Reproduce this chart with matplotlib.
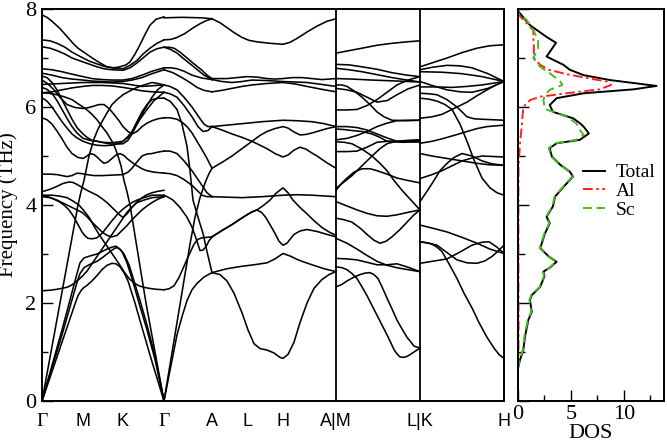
import matplotlib
matplotlib.use("Agg")
import matplotlib.pyplot as plt

# ---------------- data ----------------
kpath_pos = [0, 41, 81, 122, 170, 205, 241, 294, 378, 462]
kpath_labels = ['Γ', 'M', 'K', 'Γ', 'A', 'L', 'H', 'A|M', 'L|K', 'H']
panel_breaks = [294, 378]

# Γ-M-K-Γ branches (path coordinate, THz)
bands_gmkg = [
    [[0,7.88],[5,7.83],[10,7.75],[18,7.6],[25,7.44],[31,7.3],[36,7.2],[41,7.13],[46,7.06],[51,6.99],[58,6.9],[65,6.82],[72,6.8],[78,6.82],[84,6.86],[88,6.92],[93,7.08],[98,7.27],[103,7.48],[108,7.67],[114,7.79],[122,7.84]],
    [[0,7.37],[8,7.35],[15,7.3],[23,7.22],[30,7.12],[41,7.0],[48,6.93],[55,6.88],[62,6.83],[70,6.8],[81,6.78],[88,6.85],[95,6.95],[101,7.08],[108,7.2],[115,7.3],[122,7.37]],
    [[0,7.23],[8,7.2],[15,7.15],[23,7.08],[30,7.0],[41,6.92],[55,6.82],[62,6.78],[70,6.76],[81,6.75],[88,6.8],[95,6.9],[101,7.0],[108,7.12],[115,7.19],[122,7.22]],
    [[0,6.78],[10,6.76],[20,6.72],[30,6.67],[41,6.62],[50,6.58],[60,6.56],[70,6.55],[81,6.55],[90,6.58],[100,6.65],[110,6.73],[122,6.8]],
    [[0,6.69],[10,6.65],[20,6.6],[30,6.57],[41,6.55],[50,6.53],[60,6.52],[70,6.51],[81,6.52],[90,6.55],[100,6.6],[110,6.68],[122,6.76]],
    [[0,6.46],[20,6.48],[41,6.5],[60,6.5],[81,6.48],[100,6.42],[122,6.45]],
    [[0,6.29],[10,6.31],[20,6.35],[30,6.39],[41,6.42],[50,6.44],[60,6.44],[70,6.43],[81,6.4],[90,6.37],[100,6.33],[110,6.31],[122,6.3]],
    [[0,6.63],[5,6.6],[10,6.5],[15,6.35],[20,6.15],[25,5.95],[30,5.75],[35,5.58],[41,5.45],[45,5.38],[50,5.32],[60,5.28],[70,5.27],[81,5.3],[86,5.38],[90,5.5],[95,5.7],[100,5.9],[105,6.05],[110,6.15],[116,6.18],[122,6.18]],
    [[0,6.40],[5,6.36],[10,6.28],[15,6.13],[20,5.95],[25,5.77],[30,5.6],[35,5.47],[41,5.36],[48,5.32],[55,5.3],[62,5.27],[70,5.24],[81,5.25],[86,5.32],[90,5.45],[95,5.65],[100,5.85],[105,6.03],[110,6.2],[116,6.36],[122,6.45]],
    [[0,6.19],[5,6.12],[10,6.0],[15,5.85],[20,5.7],[25,5.57],[30,5.45],[35,5.37],[41,5.3],[48,5.25],[55,5.22],[62,5.21],[70,5.22],[76,5.25],[81,5.3],[86,5.4],[92,5.55],[98,5.75],[105,5.95],[112,6.13],[122,6.3]],
    [[0,6.55],[6,6.47],[12,6.35],[18,6.2],[25,6.05],[33,5.99],[41,5.97],[47,5.99],[52,6.02],[57,6.05],[62,6.05],[67,5.97],[72,5.85],[77,5.72],[81,5.6],[86,5.5],[90,5.45],[95,5.5],[100,5.6],[105,5.67],[110,5.72],[116,5.76],[122,5.78]],
    [[0,5.78],[5,5.74],[10,5.65],[15,5.51],[20,5.35],[25,5.18],[30,5.05],[36,4.97],[41,4.95],[45,5.0],[48,5.05],[52,5.03],[55,4.98],[59,4.9],[62,4.85],[66,4.88],[70,4.95],[74,5.02],[78,5.05],[82,5.01],[85,4.95],[90,4.87],[95,4.8],[100,4.74],[105,4.7],[112,4.67],[122,4.65]],
    [[0,4.63],[8,4.63],[15,4.62],[20,4.6],[25,4.58],[30,4.6],[35,4.65],[40,4.64],[45,4.62],[52,4.6],[60,4.6],[70,4.61],[81,4.62],[86,4.67],[90,4.75],[95,4.88],[100,5.0],[105,5.04],[110,5.05],[116,5.08],[122,5.1]],
    [[0,4.27],[8,4.32],[15,4.38],[21,4.44],[27,4.47],[31,4.46],[35,4.42],[40,4.36],[45,4.3],[50,4.25],[55,4.2],[60,4.13],[65,4.05],[70,3.95],[75,3.85],[78,3.79],[81,3.75],[85,3.82],[90,3.95],[95,4.06],[100,4.15],[105,4.21],[110,4.25],[116,4.28],[122,4.3]],
    [[0,4.2],[6,4.17],[12,4.12],[17,4.07],[22,4.0],[27,3.9],[32,3.75],[36,3.6],[40,3.45],[43,3.37],[46,3.32],[50,3.31],[55,3.33],[60,3.42],[65,3.55],[70,3.68],[75,3.8],[80,3.9],[85,3.98],[90,4.05],[95,4.1],[102,4.15],[110,4.2],[122,4.2]],
    [[0,4.17],[8,4.15],[15,4.1],[22,4.03],[30,3.95],[35,3.9],[40,3.85],[45,3.76],[50,3.65],[55,3.55],[60,3.45],[65,3.38],[70,3.35],[75,3.38],[81,3.5],[85,3.58],[90,3.7],[95,3.8],[100,3.9],[105,3.98],[110,4.05],[116,4.12],[122,4.17]],
    [[0,0],[20,1.2],[33,1.98],[36,2.15],[39,2.25],[41,2.3],[45,2.36],[50,2.45],[55,2.56],[60,2.68],[65,2.77],[70,2.81],[74,2.8],[78,2.74],[82,2.62],[86,2.45],[93,2.0],[100,1.5],[110,0.8],[122,0]],
    [[0,0],[20,1.35],[35,2.42],[38,2.6],[42,2.72],[48,2.79],[55,2.85],[60,2.92],[65,3.0],[70,3.08],[74,3.13],[77,3.11],[80,3.05],[85,2.82],[90,2.5],[97,2.0],[105,1.45],[113,0.85],[122,0]],
    [[0,0],[20,1.45],[35,2.6],[38,2.82],[42,2.92],[48,2.96],[55,3.0],[60,3.05],[65,3.1],[70,3.14],[74,3.16],[78,3.1],[82,3.0],[87,2.78],[92,2.45],[98,2.05],[105,1.55],[113,0.92],[122,0]],
    [[0,0],[18,2.0],[36,4.0],[39,4.27],[42,4.5],[45,4.8],[47,5.0],[52,5.35],[56,5.55],[60,5.7],[65,5.88],[70,6.05],[75,6.15],[81,6.25],[88,6.33],[95,6.4],[102,6.45],[110,6.5],[116,6.48],[122,6.45]],
    [[122,0],[104,2.0],[88,4.0],[85,4.27],[82,4.5],[79,4.8],[76,5.0],[73,5.17],[70,5.3],[65,5.47],[60,5.6],[55,5.74],[50,5.85],[45,5.94],[41,6.0],[35,6.08],[30,6.15],[22,6.21],[15,6.25],[7,6.28],[0,6.29]],
    [[0,2.25],[8,2.26],[15,2.28],[20,2.3],[25,2.32],[30,2.37],[35,2.45],[40,2.54],[45,2.65],[50,2.8],[55,2.95],[60,3.1],[65,3.25],[70,3.4],[75,3.55],[80,3.7],[85,3.85],[90,3.96],[95,4.05],[102,4.1],[110,4.15],[122,4.17]],
    [[122,2.27],[114,2.28],[107,2.3],[102,2.32],[97,2.35],[92,2.41],[87,2.5],[82,2.64],[77,2.8],[72,2.95],[67,3.1],[62,3.25],[57,3.4],[52,3.57],[47,3.75],[42,3.88],[37,4.0],[31,4.08],[25,4.15],[18,4.18],[10,4.2],[0,4.2]],
]

# Γ-A branches
bands_ga = [
    [[122,7.82],[140,7.83],[160,7.82],[170,7.8]],
    [[122,7.37],[129,7.38],[135,7.42],[143,7.5],[150,7.6],[158,7.7],[164,7.76],[170,7.8]],
    [[122,7.22],[127,7.22],[132,7.2],[138,7.12],[145,7.0],[152,6.88],[160,6.75],[165,6.65],[170,6.58]],
    [[122,7.22],[128,7.18],[135,7.1],[142,6.98],[150,6.85],[156,6.75],[162,6.65],[170,6.56]],
    [[122,6.8],[129,6.8],[135,6.78],[142,6.73],[150,6.65],[160,6.59],[170,6.56]],
    [[122,6.76],[131,6.7],[140,6.6],[148,6.5],[155,6.4],[162,6.34],[170,6.31]],
    [[122,6.45],[128,6.42],[135,6.35],[142,6.2],[150,6.0],[156,5.82],[162,5.65],[166,5.6],[170,5.6]],
    [[122,6.3],[128,6.27],[135,6.2],[142,6.03],[150,5.8],[156,5.6],[161,5.5],[166,5.52],[170,5.6]],
    [[122,5.78],[128,5.78],[135,5.75],[140,5.69],[145,5.6],[150,5.47],[155,5.3],[160,5.13],[165,4.95],[170,4.75]],
    [[122,0],[135,1.6],[148,3.2],[153,3.75],[158,4.15],[161,4.33],[164,4.5],[167,4.64],[170,4.75]],
    [[122,0],[135,1.35],[140,1.72],[145,2.05],[150,2.27],[155,2.4],[162,2.53],[170,2.62]],
    [[122,2.27],[127,2.29],[132,2.35],[137,2.52],[142,2.75],[147,2.98],[152,3.2],[156,3.3],[160,3.33],[170,3.35]],
    [[122,4.65],[128,4.64],[135,4.6],[142,4.52],[150,4.4],[155,4.3],[160,4.2],[165,4.17],[170,4.17]],
    [[122,4.2],[126,4.16],[131,4.1],[138,3.95],[145,3.75],[150,3.55],[154,3.32],[158,3.07],[161,3.08],[164,3.15],[167,3.27],[170,3.35]],
    [[122,6.18],[128,6.12],[135,5.95],[140,5.65],[145,5.2],[148,4.7],[151,4.1],[156,3.75],[161,3.42],[165,3.05],[170,2.62]],
    [[122,5.1],[128,5.1],[135,5.05],[142,4.9],[150,4.7],[155,4.55],[160,4.4],[165,4.25],[170,4.17]],
]

# A-L-H-A branches
bands_alha = [
    [[170,7.8],[178,7.72],[185,7.62],[192,7.52],[200,7.42],[207,7.36],[215,7.33],[228,7.3],[241,7.28],[248,7.32],[255,7.4],[265,7.53],[275,7.65],[285,7.75],[294,7.8]],
    [[170,6.58],[185,6.58],[195,6.6],[205,6.62],[215,6.61],[225,6.58],[233,6.57],[241,6.58],[250,6.6],[260,6.6],[270,6.58],[280,6.56],[294,6.58]],
    [[170,6.56],[180,6.52],[190,6.5],[200,6.52],[210,6.55],[225,6.54],[241,6.52],[253,6.51],[265,6.5],[280,6.46],[294,6.42]],
    [[170,6.31],[180,6.34],[190,6.38],[200,6.42],[210,6.45],[225,6.48],[241,6.5],[253,6.47],[265,6.42],[280,6.36],[294,6.31]],
    [[170,5.6],[185,5.63],[200,5.66],[220,5.7],[241,5.73],[255,5.72],[270,5.7],[282,5.66],[294,5.6]],
    [[170,5.6],[180,5.53],[190,5.45],[200,5.38],[210,5.3],[218,5.22],[225,5.15],[233,5.05],[241,4.98],[246,5.02],[252,5.12],[258,5.18],[264,5.14],[270,5.06],[275,5.0],[285,4.86],[294,4.75]],
    [[170,4.75],[180,4.87],[190,5.0],[200,5.15],[210,5.3],[218,5.42],[225,5.5],[233,5.56],[241,5.6],[246,5.57],[252,5.49],[258,5.43],[264,5.44],[270,5.47],[275,5.5],[285,5.56],[294,5.6]],
    [[170,4.17],[185,4.16],[200,4.15],[220,4.17],[241,4.2],[255,4.21],[270,4.2],[294,4.17]],
    [[170,3.35],[180,3.48],[190,3.6],[198,3.71],[205,3.8],[210,3.86],[215,3.9],[220,3.84],[224,3.74],[228,3.6],[233,3.42],[237,3.26],[241,3.18],[245,3.22],[252,3.4],[258,3.47],[265,3.5],[275,3.46],[285,3.4],[294,3.35]],
    [[170,3.35],[180,3.48],[190,3.6],[198,3.71],[205,3.8],[210,3.86],[215,3.9],[222,4.0],[228,4.1],[234,4.24],[241,4.35],[246,4.25],[251,4.1],[258,3.95],[265,3.82],[272,3.68],[280,3.54],[287,3.45],[294,3.38]],
    [[170,2.62],[185,2.7],[200,2.75],[212,2.78],[225,2.82],[233,2.9],[241,3.01],[248,2.96],[254,2.9],[260,2.85],[270,2.78],[282,2.7],[294,2.64]],
    [[170,2.62],[178,2.58],[185,2.45],[192,2.2],[200,1.8],[206,1.45],[212,1.17],[218,1.07],[225,1.04],[232,0.98],[238,0.89],[241,0.87],[246,0.95],[252,1.2],[258,1.6],[265,2.0],[272,2.3],[280,2.48],[287,2.58],[294,2.64]],
]

# M-L branches
bands_ml = [
    [[294,7.10],[307,7.15],[320,7.2],[335,7.26],[350,7.3],[365,7.33],[378,7.35]],
    [[294,6.87],[307,6.86],[320,6.82],[335,6.77],[350,6.7],[365,6.65],[378,6.62]],
    [[294,6.79],[307,6.76],[320,6.72],[335,6.66],[350,6.6],[365,6.55],[378,6.51]],
    [[294,6.58],[310,6.57],[330,6.55],[355,6.53],[378,6.51]],
    [[294,6.45],[300,6.45],[305,6.42],[312,6.33],[320,6.2],[328,6.05],[335,5.9],[342,5.8],[350,5.73],[365,5.72],[378,5.73]],
    [[294,6.38],[305,6.35],[315,6.3],[325,6.2],[335,6.1],[345,6.13],[355,6.25],[366,6.37],[378,6.45]],
    [[294,5.94],[305,5.94],[315,5.95],[325,6.03],[335,6.15],[345,6.3],[355,6.45],[366,6.55],[378,6.62]],
    [[294,5.6],[305,5.6],[315,5.58],[325,5.53],[335,5.45],[345,5.37],[355,5.3],[366,5.3],[378,5.33]],
    [[294,5.55],[302,5.54],[310,5.52],[320,5.5],[330,5.45],[338,5.38],[345,5.3],[360,5.28],[378,5.29]],
    [[294,5.33],[305,5.36],[315,5.42],[325,5.5],[335,5.6],[345,5.67],[355,5.72],[366,5.73],[378,5.73]],
    [[294,5.29],[302,5.28],[310,5.25],[320,5.14],[330,5.0],[338,4.85],[345,4.7],[352,4.5],[360,4.3],[369,4.1],[378,3.9]],
    [[294,5.09],[305,5.09],[315,5.1],[325,5.18],[335,5.28],[345,5.3],[355,5.3],[366,5.32],[378,5.33]],
    [[294,4.34],[302,4.47],[310,4.6],[320,4.8],[330,5.0],[338,5.15],[345,5.25],[352,5.29],[360,5.3],[378,5.29]],
    [[294,4.30],[300,4.45],[305,4.55],[312,4.67],[320,4.74],[328,4.74],[335,4.7],[345,4.63],[355,4.55],[366,4.5],[378,4.45]],
    [[294,4.07],[305,3.98],[315,3.9],[325,3.83],[335,3.78],[345,3.77],[355,3.8],[366,3.85],[378,3.9]],
    [[294,3.73],[302,3.7],[310,3.65],[318,3.53],[325,3.4],[332,3.28],[338,3.22],[344,3.26],[350,3.35],[358,3.5],[365,3.65],[372,3.8],[378,3.9]],
    [[294,3.32],[305,3.22],[315,3.1],[325,2.97],[335,2.85],[345,2.77],[355,2.72],[366,2.68],[378,2.64]],
    [[294,2.91],[305,2.9],[315,2.88],[325,2.83],[335,2.78],[345,2.78],[355,2.8],[366,2.73],[378,2.64]],
    [[294,2.74],[300,2.72],[305,2.68],[310,2.6],[315,2.5],[320,2.33],[325,2.15],[330,1.95],[335,1.75],[340,1.55],[345,1.35],[349,1.18],[352,1.05],[355,0.96],[358,0.9],[362,0.89],[366,0.92],[372,1.0],[378,1.08]],
    [[294,2.33],[300,2.38],[305,2.45],[312,2.53],[318,2.58],[323,2.61],[328,2.62],[332,2.58],[336,2.5],[340,2.33],[345,2.1],[350,1.88],[355,1.65],[360,1.47],[365,1.3],[369,1.2],[372,1.12],[378,1.08]],
]

# K-H branches
bands_kh = [
    [[378,6.82],[390,6.9],[405,7.0],[420,7.11],[435,7.2],[448,7.25],[462,7.27]],
    [[378,6.76],[390,6.81],[405,6.85],[418,6.84],[430,6.8],[446,6.68],[462,6.52]],
    [[378,6.72],[400,6.71],[420,6.68],[440,6.62],[462,6.52]],
    [[378,6.52],[390,6.44],[405,6.35],[418,6.31],[430,6.3],[446,6.38],[462,6.52]],
    [[378,6.41],[395,6.41],[410,6.4],[425,6.42],[440,6.45],[462,6.52]],
    [[378,6.28],[387,6.27],[395,6.25],[405,6.15],[415,6.0],[420,5.9],[425,5.8],[432,5.76],[440,5.75],[462,5.73]],
    [[378,6.18],[387,6.16],[395,6.12],[403,6.05],[410,5.95],[418,5.65],[425,5.3],[432,4.92],[440,4.55],[448,4.35],[455,4.25],[462,4.2]],
    [[378,5.77],[390,5.8],[400,5.85],[412,5.97],[425,6.1],[435,6.23],[445,6.35],[455,6.46],[462,6.52]],
    [[378,5.26],[390,5.3],[400,5.35],[412,5.42],[425,5.5],[435,5.56],[445,5.6],[462,5.63]],
    [[378,5.05],[390,5.0],[405,4.95],[420,4.9],[435,4.85],[448,4.82],[462,4.81]],
    [[378,4.54],[390,4.62],[400,4.7],[410,4.8],[420,4.9],[430,4.96],[440,5.0],[462,4.98]],
    [[378,4.07],[385,4.28],[392,4.5],[398,4.7],[405,4.85],[412,4.97],[420,5.05],[430,5.0],[440,4.9],[450,4.84],[462,4.81]],
    [[378,3.59],[390,3.53],[405,3.45],[420,3.34],[435,3.22],[448,3.1],[462,3.01]],
    [[378,3.25],[387,3.22],[395,3.18],[405,3.03],[415,2.88],[425,2.82],[435,2.81],[443,2.86],[450,2.95],[456,3.06],[462,3.18]],
    [[378,2.81],[390,2.85],[405,2.9],[418,3.04],[430,3.18],[440,3.24],[447,3.25],[455,3.14],[462,3.01]],
    [[378,3.25],[385,3.23],[390,3.2],[395,3.14],[400,3.05],[407,2.8],[415,2.5],[422,2.2],[430,1.9],[437,1.6],[445,1.3],[452,1.08],[457,0.95],[462,0.87]],
]

# DOS (frequency THz, states)
dos_freq_total = [0.0,0.65,0.70,0.84,1.04,1.31,1.65,1.82,2.06,2.16,2.33,2.55,2.64,2.72,2.84,2.95,3.12,3.42,3.63,3.76,3.97,4.17,4.37,4.58,4.68,4.82,4.99,5.16,5.26,5.33,5.46,5.60,5.67,5.77,5.90,6.04,6.18,6.28,6.36,6.43,6.55,6.65,6.76,6.86,7.03,7.31,7.43,7.67,7.95,8.0]
dos_total      = [0.0,0.0,0.03,0.19,0.5,0.66,0.97,1.3,1.13,1.3,2.1,2.5,2.4,3.0,3.65,2.9,2.1,2.55,3.0,2.7,3.3,3.5,4.3,5.2,4.9,4.0,3.2,3.0,3.65,5.85,6.7,6.2,5.85,5.2,3.3,3.0,3.65,6.2,10.9,13.1,8.7,6.2,4.9,4.3,2.7,3.6,2.7,1.13,0.03,0.0]
dos_freq_al = [0.65,1.0,2.0,3.0,4.1,4.78,5.26,5.6,6.0,6.14,6.21,6.28,6.36,6.45,6.52,6.58,6.67,6.76,6.86,7.0,7.2,7.43,7.57,7.78,7.9]
dos_al      = [0.0,0.05,0.05,0.04,0.04,0.05,0.19,0.35,0.5,1.13,2.1,4.6,7.7,8.8,8.4,6.8,4.6,2.9,2.1,1.5,1.5,1.45,1.45,0.5,0.0]
dos_freq_sc = [0.65,0.70,0.84,1.04,1.31,1.65,1.82,2.06,2.16,2.33,2.55,2.64,2.72,2.84,2.95,3.12,3.42,3.63,3.76,3.97,4.17,4.37,4.58,4.68,4.82,4.99,5.16,5.26,5.33,5.43,5.53,5.67,5.8,5.96,6.14,6.25,6.35,6.45,6.52,6.69,6.82,7.0,7.2,7.36,7.57,7.78,7.92]
dos_sc      = [0.0,0.0,0.15,0.45,0.6,0.92,1.25,1.08,1.25,2.05,2.45,2.35,2.95,3.6,2.85,2.05,2.5,2.95,2.65,3.25,3.45,4.25,5.15,4.85,3.95,3.15,2.9,3.5,5.5,6.2,5.85,5.5,4.6,2.55,2.4,2.55,3.0,4.2,4.0,3.0,2.1,1.45,1.9,1.9,1.45,0.8,0.0]

# ---------------- figure ----------------
serif = ['Liberation Serif', 'DejaVu Serif']
sans = ['Liberation Sans', 'DejaVu Sans']

fig = plt.figure(figsize=(6.67, 4.45), dpi=100)
ax = fig.add_axes([42/667, 1-401/445, (504-42)/667, (401-9)/445])
axd = fig.add_axes([518/667, 1-401/445, (664-518)/667, (401-9)/445])

for group in (bands_gmkg, bands_ga, bands_alha, bands_ml, bands_kh):
    for br in group:
        xs = [p[0] for p in br]
        ys = [p[1] for p in br]
        ax.plot(xs, ys, color='black', lw=1.15, solid_joinstyle='round')

for xb in panel_breaks:
    ax.axvline(xb, color='black', lw=1.3)

ax.set_xlim(kpath_pos[0], kpath_pos[-1])
ax.set_ylim(0, 8)
ax.set_xticks(kpath_pos)
ax.set_xticklabels(kpath_labels)
ax.tick_params(axis='x', length=0, pad=9)
for lab in ax.get_xticklabels():
    if lab.get_text() == 'Γ':
        lab.set_fontfamily(serif)
        lab.set_fontsize(14)
    else:
        lab.set_fontfamily(sans)
        lab.set_fontsize(13)
ax.set_yticks([0, 2, 4, 6, 8])
ax.set_yticks([1, 3, 5, 7], minor=True)
ax.tick_params(axis='y', which='major', direction='in', length=8, width=1.0, pad=4, labelsize=16)
ax.tick_params(axis='y', which='minor', direction='in', length=4.5, width=1.0)
for lab in ax.get_yticklabels():
    lab.set_fontfamily(serif)
ax.set_ylabel('Frequency (THz)', fontsize=15, fontfamily=serif, labelpad=5)
for s in ax.spines.values():
    s.set_linewidth(1.4)

# DOS panel
axd.plot(dos_total, dos_freq_total, color='black', lw=1.4, label='Total')
axd.plot(dos_al, dos_freq_al, color='#ff2020', lw=1.4, ls=(0, (5, 1.8, 1.3, 1.8)), label='Al')
axd.plot(dos_sc, dos_freq_sc, color='#44bb22', lw=1.4, ls=(0, (4.5, 2.5)), label='Sc')
axd.set_ylim(0, 8)
axd.set_xlim(0, 13.8)
axd.set_xticks([0, 5, 10])
axd.set_xticks([2.5, 7.5, 12.5], minor=True)
axd.set_yticks([0, 2, 4, 6, 8])
axd.set_yticks([1, 3, 5, 7], minor=True)
axd.set_yticklabels([])
axd.tick_params(axis='x', which='major', direction='in', length=8, width=1.0, pad=3, labelsize=16)
axd.tick_params(axis='x', which='minor', direction='in', length=4.5, width=1.0)
axd.tick_params(axis='y', which='major', direction='in', length=8, width=1.0)
axd.tick_params(axis='y', which='minor', direction='in', length=5, width=1.0)
for lab in axd.get_xticklabels():
    lab.set_fontfamily(serif)
axd.set_xlabel('DOS', fontsize=16, fontfamily=serif, labelpad=0)
for s in axd.spines.values():
    s.set_linewidth(1.4)

leg = axd.legend(loc='upper left', bbox_to_anchor=(0.39, 0.625), frameon=False,
                 prop={'family': serif, 'size': 14}, handlelength=1.15,
                 handletextpad=0.55, labelspacing=0.05, borderaxespad=0)

fig.savefig('out.png', dpi=100)
